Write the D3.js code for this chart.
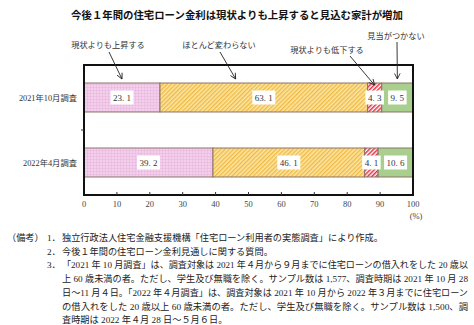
<!DOCTYPE html>
<html><head><meta charset="utf-8">
<script src="https://cdn.jsdelivr.net/npm/d3@7"></script>
<style>
html,body{margin:0;padding:0;background:#fff;}
svg{display:block;}
</style></head>
<body>
<svg id="chart" width="474" height="325"></svg>
<script>
// ---- data ----
const title = "今後１年間の住宅ローン金利は現状よりも上昇すると見込む家計が増加";
const categories = ["2021年10月調査", "2022年4月調査"];
const seriesNames = ["現状よりも上昇する", "ほとんど変わらない", "現状よりも低下する", "見当がつかない"];
const riseValues = [23.1, 39.2];
const sameValues = [63.1, 46.1];
const fallValues = [4.3, 4.1];
const unknownValues = [9.5, 10.6];
const xTicks = [0, 10, 20, 30, 40, 50, 60, 70, 80, 90, 100];
const notes = [
  ["（備考）", "1．", "独立行政法人住宅金融支援機構「住宅ローン利用者の実態調査」により作成。"],
  ["", "2．", "今後１年間の住宅ローン金利見通しに関する質問。"],
  ["", "3．", "「2021 年 10 月調査」は、調査対象は 2021 年４月から９月までに住宅ローンの借入れをした 20 歳以"],
  ["", "", "上 60 歳未満の者。ただし、学生及び無職を除く。サンプル数は 1,577、調査時期は 2021 年 10 月 28"],
  ["", "", "日～11 月４日。「2022 年４月調査」は、調査対象は 2021 年 10 月から 2022 年３月までに住宅ローン"],
  ["", "", "の借入れをした 20 歳以上 60 歳未満の者。ただし、学生及び無職を除く。サンプル数は 1,500、調"],
  ["", "", "査時期は 2022 年４月 28 日～５月６日。"]
];

// ---- build table ----
const seriesValues = [riseValues, sameValues, fallValues, unknownValues];
const rows = categories.map((c, i) => {
  let acc = 0;
  return {cat: c, segs: seriesValues.map((vals, s) => {
    const seg = {s, v: vals[i], x0: acc, x1: acc + vals[i]};
    acc += vals[i];
    return seg;
  })};
});

const svg = d3.select("#chart");
const plot = {l: 84, r: 413, t: 65, b: 195};
const jp = "'Noto Sans CJK JP', sans-serif";
const serifNum = "'Liberation Serif', 'DejaVu Serif', 'Noto Sans CJK JP', serif";

const x = d3.scaleLinear().domain([0, 100]).range([plot.l, plot.r]);
const y = d3.scaleBand().domain(categories).range([plot.t, plot.b]).paddingInner(0.554).paddingOuter(0.277);

// ---- patterns ----
const defs = svg.append("defs");
const pPink = defs.append("pattern").attr("id", "pPink").attr("patternUnits", "userSpaceOnUse").attr("width", 3).attr("height", 3);
pPink.append("rect").attr("width", 3).attr("height", 3).attr("fill", "#f3cfec");
pPink.append("path").attr("d", "M0,0.5H3M0.5,0V3").attr("stroke", "#e6b3dc").attr("stroke-width", 0.5);

const pYel = defs.append("pattern").attr("id", "pYel").attr("patternUnits", "userSpaceOnUse")
  .attr("width", 3).attr("height", 3).attr("patternTransform", "rotate(45)");
pYel.append("rect").attr("width", 3).attr("height", 3).attr("fill", "#fce6a6");
pYel.append("rect").attr("width", 1.4).attr("height", 3).attr("fill", "#f0bb45");

const pRed = defs.append("pattern").attr("id", "pRed").attr("patternUnits", "userSpaceOnUse")
  .attr("width", 3).attr("height", 3).attr("patternTransform", "rotate(45)");
pRed.append("rect").attr("width", 3).attr("height", 3).attr("fill", "#fff");
pRed.append("rect").attr("width", 1.5).attr("height", 3).attr("fill", "#e03040");

const fills = ["url(#pPink)", "url(#pYel)", "url(#pRed)", "#a9cf8e"];

const marker = defs.append("marker").attr("id", "arr").attr("viewBox", "0 0 10 10")
  .attr("refX", 9).attr("refY", 5).attr("markerWidth", 7).attr("markerHeight", 7)
  .attr("orient", "auto").attr("markerUnits", "userSpaceOnUse");
marker.append("path").attr("d", "M1,1L9,5L1,9").attr("fill", "none").attr("stroke", "#222").attr("stroke-width", 1.2);

// ---- title ----
svg.append("text").attr("x", 237).attr("y", 19).attr("text-anchor", "middle")
  .attr("font-family", jp).attr("font-weight", "bold").attr("font-size", 10.4)
  .attr("fill", "#111").text(title);

// ---- frame background ----
svg.append("rect").attr("x", plot.l).attr("y", plot.t).attr("width", plot.r - plot.l).attr("height", plot.b - plot.t)
  .attr("fill", "#fff");

// ---- bars ----
const g = svg.append("g");
rows.forEach(r => {
  const by = y(r.cat), bh = y.bandwidth();
  g.selectAll(null).data(r.segs).join("rect")
    .attr("x", d => x(d.x0)).attr("y", by)
    .attr("width", d => x(d.x1) - x(d.x0)).attr("height", bh)
    .attr("fill", d => fills[d.s]).attr("stroke", "#8a7468").attr("stroke-width", 1);
  r.segs.forEach(d => {
    const cx = x((d.x0 + d.x1) / 2), cy = by + bh / 2;
    const lab = d3.format(".1f")(d.v).replace(".", ". ");
    const t = g.append("text").attr("x", cx).attr("y", cy + 3.2).attr("text-anchor", "middle")
      .attr("font-family", serifNum).attr("font-size", 9).attr("fill", "#333").text(lab);
    const w = t.node().getComputedTextLength();
    g.insert("rect", () => t.node()).attr("x", cx - w / 2 - 2.5).attr("y", cy - 7)
      .attr("width", w + 5).attr("height", 14).attr("fill", "#fff");
  });
});

// ---- frame on top ----
svg.append("rect").attr("x", plot.l).attr("y", plot.t).attr("width", plot.r - plot.l).attr("height", plot.b - plot.t)
  .attr("fill", "none").attr("stroke", "#111").attr("stroke-width", 2);

// ---- x axis ticks and labels ----
svg.append("g").selectAll("line").data(xTicks.slice(1, -1)).join("line")
  .attr("x1", d => x(d)).attr("x2", d => x(d)).attr("y1", plot.b - 3).attr("y2", plot.b)
  .attr("stroke", "#333").attr("stroke-width", 1);
svg.append("g").selectAll("text").data(xTicks).join("text")
  .attr("x", d => x(d)).attr("y", 207).attr("text-anchor", "middle")
  .attr("font-family", serifNum).attr("font-size", 8.5).attr("fill", "#444").text(d => d);
svg.append("text").attr("x", x(100) + 3).attr("y", 219).attr("text-anchor", "middle")
  .attr("font-family", serifNum).attr("font-size", 8.5).attr("fill", "#444").text("(%)");

// ---- y category labels and separator tick ----
svg.append("g").selectAll("text").data(categories).join("text")
  .attr("x", 77).attr("y", d => y(d) + y.bandwidth() / 2 + 3)
  .attr("text-anchor", "end").attr("font-family", serifNum).attr("font-size", 8.3).attr("fill", "#333").text(d => d);
svg.append("line").attr("x1", plot.l - 3).attr("x2", plot.l).attr("y1", (plot.t + plot.b) / 2).attr("y2", (plot.t + plot.b) / 2)
  .attr("stroke", "#333");

// ---- annotations ----
const annLayout = [
  {lx: 108, ly: 48, sx: 109, sy: 52, anchor: 11.55, ey: 79},
  {lx: 219, ly: 48, sx: 220, sy: 52, anchor: 46.1, ey: 79},
  {lx: 327, ly: 53, sx: 350, sy: 56, anchor: 88.3, ey: 85},
  {lx: 396, ly: 39, sx: 397, sy: 42, anchor: 95.25, ey: 79}
];
seriesNames.forEach((name, i) => {
  const a = annLayout[i];
  svg.append("text").attr("x", a.lx).attr("y", a.ly).attr("text-anchor", "middle")
    .attr("font-family", jp).attr("font-size", 8.2).attr("fill", "#333").text(name);
  svg.append("line").attr("x1", a.sx).attr("y1", a.sy).attr("x2", x(a.anchor)).attr("y2", a.ey)
    .attr("stroke", "#222").attr("stroke-width", 0.9).attr("marker-end", "url(#arr)");
});

// ---- notes ----
const nTop = 241, nStep = 13.7, nFont = 9.2;
notes.forEach((n, i) => {
  const yy = nTop + i * nStep;
  if (n[0]) svg.append("text").attr("x", 7).attr("y", yy).attr("font-family", serifNum).attr("font-size", nFont).attr("fill", "#222").text(n[0]);
  if (n[1]) svg.append("text").attr("x", 47).attr("y", yy).attr("font-family", serifNum).attr("font-size", nFont).attr("fill", "#222").text(n[1]);
  const t = svg.append("text").attr("x", 62).attr("y", yy).attr("font-family", serifNum).attr("font-size", nFont).attr("fill", "#222").text(n[2]);
  if (i >= 2 && i <= 5) {
    const maxW = 406;
    let fs = nFont;
    while (t.node().getComputedTextLength() > maxW && fs > 6) { fs -= 0.1; t.attr("font-size", fs); }
    t.attr("textLength", maxW).attr("lengthAdjust", "spacingAndGlyphs");
  }
});
</script>
</body></html>
